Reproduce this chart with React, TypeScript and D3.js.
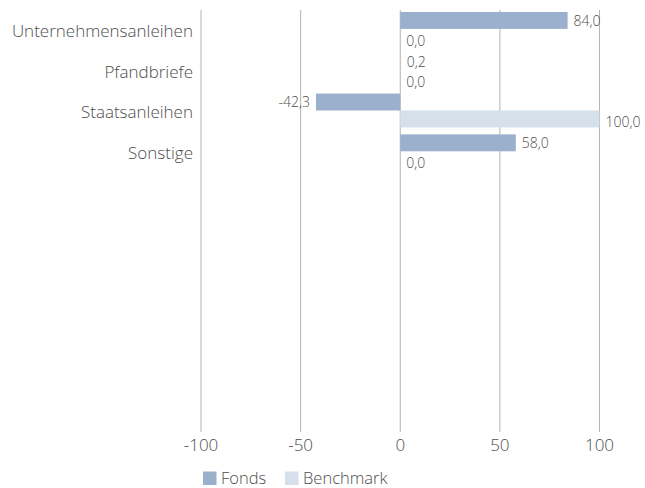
import React from "react";
import * as d3 from "d3";

const categories = ["Unternehmensanleihen", "Pfandbriefe", "Staatsanleihen", "Sonstige"];
const fonds = [84.0, 0.2, -42.3, 58.0];
const benchmark = [0.0, 0.0, 100.0, 0.0];
const series = ["Fonds", "Benchmark"];
const xTicks = [-100, -50, 0, 50, 100];

const colors = ["#9bb0cc", "#d6e0ea"];
const textColor = "#4d4d4d";
const font = "'Open Sans', Lato, sans-serif";

const fmt = (v: number) => v.toFixed(1).replace(".", ",");

const App = () => {
  const width = 645;
  const height = 488;
  const plotTop = 10;
  const plotBottom = 432;

  const x = d3.scaleLinear().domain([-100, 100]).range([201, 599.5]);
  const y = d3
    .scaleBand<string>()
    .domain(categories)
    .range([8.5, 8.5 + 4 * 40.8])
    .paddingInner(0.17)
    .paddingOuter(0.085);
  const ySub = d3.scaleBand<string>().domain(series).range([0, y.bandwidth()]);

  const values = [fonds, benchmark];

  return (
    <svg
      width={width}
      height={height}
      style={{ position: "absolute", left: 0, top: 0, fontFamily: font, fontWeight: 300 }}
    >
      <rect width={width} height={height} fill="#fff" />
      {xTicks.map((t) => (
        <g key={t}>
          <line x1={x(t)} x2={x(t)} y1={plotTop} y2={plotBottom} stroke="#b3b3b3" strokeWidth={1} />
          <text x={x(t)} y={451} textAnchor="middle" fontSize={17} fill={textColor}>
            {t}
          </text>
        </g>
      ))}
      {categories.map((c) => (
        <text
          key={c}
          x={193}
          y={(y(c) as number) + y.bandwidth() / 2 + 2}
          dy="0.35em"
          textAnchor="end"
          fontSize={17}
          fill={textColor}
        >
          {c}
        </text>
      ))}
      {series.map((s, si) =>
        categories.map((c, ci) => {
          const v = values[si][ci];
          const y0 = (y(c) as number) + (ySub(s) as number);
          const h = ySub.bandwidth();
          const x0 = Math.min(x(0), x(v));
          const w = Math.abs(x(v) - x(0));
          const neg = v < 0;
          return (
            <g key={s + c}>
              {w > 0.5 && <rect x={x0} y={y0} width={w} height={h} fill={colors[si]} />}
              <text
                x={neg ? x(v) - 6 : x(v) + 6}
                y={y0 + h / 2 + (si === 1 ? 3.5 : 0.5)}
                dy="0.35em"
                textAnchor={neg ? "end" : "start"}
                fontSize={14}
                fill={textColor}
              >
                {fmt(v)}
              </text>
            </g>
          );
        })
      )}
      {series.map((s, i) => (
        <g key={s} transform={`translate(${i === 0 ? 203 : 285},471.5)`}>
          <rect width={13.5} height={13.5} fill={colors[i]} />
          <text x={18} y={7} dy="0.35em" fontSize={16.5} fill={textColor}>
            {s}
          </text>
        </g>
      ))}
    </svg>
  );
};

export default App;
